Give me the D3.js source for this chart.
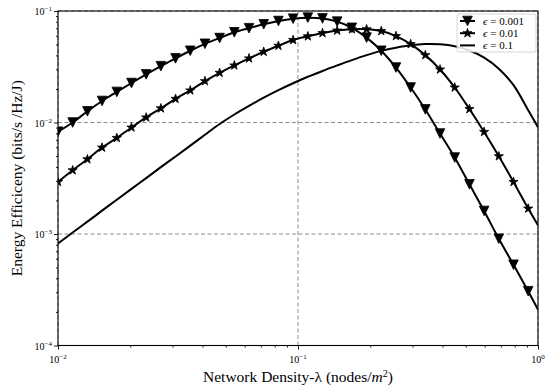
<!DOCTYPE html>
<html>
<head>
<meta charset="utf-8">
<script src="https://cdn.jsdelivr.net/npm/d3@7"></script>
<style>
  body { margin: 0; background: #fff; }
  svg { font-family: "Liberation Serif", "DejaVu Serif", serif; }
</style>
</head>
<body>
<svg id="chart" width="550" height="391"></svg>
<script>
// network density (nodes/m^2), one entry per sample
const density = [0.01, 0.01151, 0.01326, 0.01526, 0.01758, 0.02024, 0.0233, 0.02683,
  0.03089, 0.03557, 0.04095, 0.04715, 0.05429, 0.06251, 0.07197, 0.08287, 0.09541,
  0.1099, 0.1265, 0.1456, 0.1677, 0.1931, 0.2223, 0.256, 0.2947, 0.3393, 0.3907,
  0.4498, 0.518, 0.5964, 0.6867, 0.7906, 0.9103, 1.0];

// energy efficiency (bits/s/Hz/J)
const eeEps0001 = [0.00827, 0.0100, 0.0126, 0.0156, 0.0188, 0.0226, 0.0270, 0.0320,
  0.0376, 0.0440, 0.0508, 0.0572, 0.0644, 0.0701, 0.0760, 0.0813, 0.0853, 0.0872,
  0.0858, 0.0803, 0.0707, 0.0577, 0.0440, 0.0311, 0.0206, 0.0131, 0.00796, 0.00485,
  0.00279, 0.00161, 0.000907, 0.000530, 0.000307, 0.000210];
const eeEps001 = [0.00293, 0.00373, 0.00468, 0.00596, 0.00727, 0.00902, 0.0111, 0.0134,
  0.0163, 0.0194, 0.0235, 0.0279, 0.0325, 0.0376, 0.0431, 0.0488, 0.0549, 0.0593,
  0.0634, 0.0668, 0.0686, 0.0686, 0.0661, 0.0596, 0.0505, 0.0402, 0.0299, 0.0206,
  0.0132, 0.00823, 0.00498, 0.00293, 0.00169, 0.00120];
const eeEps01 = [0.000823, 0.00103, 0.00129, 0.00162, 0.00203, 0.00254, 0.00317, 0.00398,
  0.00496, 0.00620, 0.00776, 0.00969, 0.0118, 0.0141, 0.0167, 0.0195, 0.0225, 0.0257,
  0.0290, 0.0325, 0.0363, 0.0402, 0.0439, 0.0469, 0.0493, 0.0505, 0.0502, 0.0483,
  0.0442, 0.0382, 0.0304, 0.0216, 0.0129, 0.00908];

const legendLabels = ["0.001", "0.01", "0.1"];
const markerTypes = ["tri", "star", null];
const xTickExp = [-2, -1, 0];
const yTickExp = [-4, -3, -2, -1];

const svg = d3.select("#chart");
const margin = { left: 58, right: 12, top: 11, bottom: 45.5 };
const W = 550, H = 391;

const x = d3.scaleLog().domain([0.01, 1]).range([margin.left, W - margin.right]);
const y = d3.scaleLog().domain([1e-4, 1e-1]).range([H - margin.bottom, margin.top]);

svg.append("defs").append("clipPath").attr("id", "plotclip")
  .append("rect")
  .attr("x", x.range()[0]).attr("y", y.range()[1])
  .attr("width", x.range()[1] - x.range()[0])
  .attr("height", y.range()[0] - y.range()[1]);

// grid, major decades only
const grid = svg.append("g")
  .attr("stroke", "#808080").attr("stroke-width", 0.9)
  .attr("stroke-dasharray", "4,2.5");
xTickExp.forEach(e => {
  grid.append("line")
    .attr("x1", x(10 ** e)).attr("x2", x(10 ** e))
    .attr("y1", y.range()[0]).attr("y2", y.range()[1]);
});
yTickExp.forEach(e => {
  grid.append("line")
    .attr("x1", x.range()[0]).attr("x2", x.range()[1])
    .attr("y1", y(10 ** e)).attr("y2", y(10 ** e));
});

// minor ticks (2..9 in each decade)
const minorX = [], minorY = [];
xTickExp.slice(0, -1).forEach(e => { for (let m = 2; m < 10; m++) minorX.push(m * 10 ** e); });
yTickExp.slice(0, -1).forEach(e => { for (let m = 2; m < 10; m++) minorY.push(m * 10 ** e); });

const xAxisG = svg.append("g").attr("transform", `translate(0,${y.range()[0]})`);
xAxisG.call(d3.axisBottom(x).tickValues(xTickExp.map(e => 10 ** e)).tickSize(4).tickFormat(""));
xAxisG.append("g").call(d3.axisBottom(x).tickValues(minorX).tickSize(2).tickFormat(""));
const yAxisG = svg.append("g").attr("transform", `translate(${x.range()[0]},0)`);
yAxisG.call(d3.axisLeft(y).tickValues(yTickExp.map(e => 10 ** e)).tickSize(4).tickFormat(""));
yAxisG.append("g").call(d3.axisLeft(y).tickValues(minorY).tickSize(2).tickFormat(""));
svg.selectAll(".domain").remove();
svg.selectAll(".tick line").attr("stroke", "#000").attr("stroke-width", 0.9);

// tick labels as 10^e
function powLabel(g, e) {
  g.append("tspan").text("10");
  g.append("tspan").attr("dy", -4).attr("font-size", 7).text(e === 0 ? "0" : "\u2212" + Math.abs(e));
}
xTickExp.forEach(e => {
  const t = svg.append("text").attr("x", x(10 ** e)).attr("y", y.range()[0] + 17)
    .attr("text-anchor", "middle").attr("font-size", 10);
  powLabel(t, e);
});
yTickExp.forEach(e => {
  const t = svg.append("text").attr("x", x.range()[0] - 6).attr("y", y(10 ** e) + 4)
    .attr("text-anchor", "end").attr("font-size", 10);
  powLabel(t, e);
});

// series
const series = [eeEps0001, eeEps001, eeEps01];
const line = d3.line().x(d => x(d[0])).y(d => y(d[1])).curve(d3.curveCatmullRom);
const plot = svg.append("g").attr("clip-path", "url(#plotclip)");

const triPath = r => `M${-r},${-r}L${r},${-r}L0,${r}Z`;
const starPath = d3.symbol().type(d3.symbolStar).size(26)();

series.forEach((vals, i) => {
  const pts = density.map((d, j) => [d, vals[j]]);
  plot.append("path").datum(pts)
    .attr("fill", "none").attr("stroke", "#000").attr("stroke-width", 2)
    .attr("d", line);
  if (markerTypes[i]) {
    plot.selectAll(null).data(pts.slice(0, -1)).join("path")
      .attr("transform", d => `translate(${x(d[0])},${y(d[1])})`)
      .attr("d", markerTypes[i] === "tri" ? triPath(4.8) : starPath)
      .attr("fill", "#000").attr("stroke", "#000").attr("stroke-width", 0.8);
  }
});

// frame
svg.append("rect")
  .attr("x", x.range()[0]).attr("y", y.range()[1])
  .attr("width", x.range()[1] - x.range()[0])
  .attr("height", y.range()[0] - y.range()[1])
  .attr("fill", "none").attr("stroke", "#000").attr("stroke-width", 1.1);

// legend
const leg = svg.append("g").attr("transform", "translate(457,14)");
leg.append("rect").attr("width", 79).attr("height", 38).attr("rx", 2)
  .attr("fill", "#fff").attr("fill-opacity", 0.85).attr("stroke", "#ccc").attr("stroke-width", 0.8);
legendLabels.forEach((lab, i) => {
  const ly = 7 + i * 12.2;
  leg.append("line").attr("x1", 3).attr("x2", 18).attr("y1", ly).attr("y2", ly)
    .attr("stroke", "#000").attr("stroke-width", 2);
  if (markerTypes[i]) {
    leg.append("path").attr("transform", `translate(10.5,${ly})`)
      .attr("d", markerTypes[i] === "tri" ? triPath(4.8) : starPath)
      .attr("fill", "#000").attr("stroke", "#000").attr("stroke-width", 0.8);
  }
  const t = leg.append("text").attr("x", 26).attr("y", ly + 3.5).attr("font-size", 11);
  t.append("tspan").attr("font-style", "italic").text("\u03f5");
  t.append("tspan").text(" = " + lab);
});

// axis titles
const xl = svg.append("text").attr("x", x(0.1)).attr("y", 382)
  .attr("text-anchor", "middle").attr("font-size", 15.5);
xl.append("tspan").text("Network Density-\u03bb (nodes/");
xl.append("tspan").attr("font-style", "italic").text("m");
xl.append("tspan").attr("dy", -5).attr("font-size", 10).text("2");
xl.append("tspan").attr("dy", 5).text(")");

svg.append("text")
  .attr("transform", `translate(22,${(y.range()[0] + y.range()[1]) / 2}) rotate(-90)`)
  .attr("text-anchor", "middle").attr("font-size", 15.5)
  .text("Energy Efficiceny (bits/s /Hz/J)");
</script>
</body>
</html>
